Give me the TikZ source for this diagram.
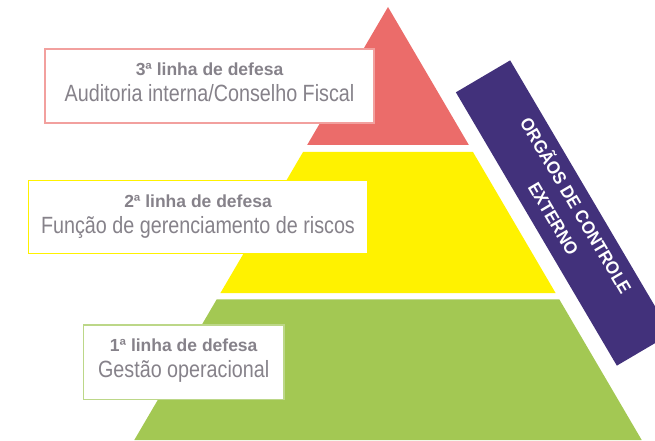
\documentclass[tikz,border=0pt]{standalone}
\usepackage{fontspec}
\setmainfont{Liberation Sans}
\newfontfamily\headfont{Liberation Sans}
\newfontfamily\tierfont[FakeStretch=0.84]{Liberation Sans}
\newfontfamily\bandfont[FakeStretch=0.93]{Liberation Sans}
\usepackage{tikz}
\usetikzlibrary{calc}
\pgfdeclarelayer{bg}
\pgfsetlayers{bg,main}

\definecolor{tierred}{RGB}{235,108,106}
\definecolor{tieryellow}{RGB}{255,242,0}
\definecolor{tiergreen}{RGB}{163,200,83}
\definecolor{bandpurple}{RGB}{66,49,123}
\definecolor{textgray}{RGB}{134,130,138}
\definecolor{redline}{RGB}{242,160,158}
\definecolor{greenline}{RGB}{188,215,136}

\begin{document}
\begin{tikzpicture}[x=1pt,y=-1pt,
    defbox/.style={draw,fill=white,line width=1.4pt,inner sep=0pt},
    headtxt/.style={anchor=base,text=textgray,font=\headfont\bfseries\fontsize{17.5}{20}\selectfont},
    desctxt/.style={anchor=base,text=textgray,font=\tierfont\fontsize{23.5}{26}\selectfont},
    bandtxt/.style={anchor=base,text=white,transform shape,font=\bandfont\bfseries\fontsize{18}{22}\selectfont}]
    \useasboundingbox (0,0) rectangle (655,441) ;
    \begin{pgfonlayer}{bg}
      \coordinate (top) at (388,7) ;
      \coordinate (bl) at (134.3,440) ;
      \coordinate (br) at (641.7,440) ;
      % three tiers of the pyramid
      \fill[tierred] (top) -- ($(top)!0.3187!(bl)$) -- ($(top)!0.3187!(br)$) -- cycle ;
      \fill[tieryellow] ($(top)!0.3343!(bl)$) -- ($(top)!0.6605!(bl)$)
        -- ($(top)!0.6605!(br)$) -- ($(top)!0.3343!(br)$) -- cycle ;
      \fill[tiergreen] ($(top)!0.6750!(bl)$) -- (bl) -- (br) -- ($(top)!0.6750!(br)$) -- cycle ;
    \end{pgfonlayer}
    % label boxes
    \node (box3) at (209.5,86) [defbox,draw=redline,minimum width=329pt,minimum height=74pt] {} ;
    \node (head3) at ($(box3.north)+(0,27)$) [headtxt] {3ª linha de defesa} ;
    \node (desc3) at ($(box3.north)+(0,53)$) [desctxt] {Auditoria interna/Conselho Fiscal} ;
    \node (box2) at (198,217) [defbox,draw=tieryellow,minimum width=339pt,minimum height=72.6pt] {} ;
    \node (head2) at ($(box2.north)+(0,27)$) [headtxt] {2ª linha de defesa} ;
    \node (desc2) at ($(box2.north)+(0,53)$) [desctxt] {Função de gerenciamento de riscos} ;
    \node (box1) at (183.7,362.2) [defbox,draw=greenline,minimum width=200.7pt,minimum height=74.3pt] {} ;
    \node (head1) at ($(box1.north)+(0,27)$) [headtxt] {1ª linha de defesa} ;
    \node (desc1) at ($(box1.north)+(0,53)$) [desctxt] {Gestão operacional} ;
    % external control band
    \begin{scope}
      \clip (0,0) rectangle (655,441) ;
      \begin{scope}[shift={(563.5,213)},rotate=-59.5]
        \fill[bandpurple] (-158.6,-31.5) rectangle (158.6,31.5) ;
        \node (ext1) at (0,-7.9) [bandtxt] {ORGÃOS DE CONTROLE} ;
        \node (ext2) at (0,18.1) [bandtxt] {EXTERNO} ;
      \end{scope}
    \end{scope}
  \end{tikzpicture}
\end{document}
